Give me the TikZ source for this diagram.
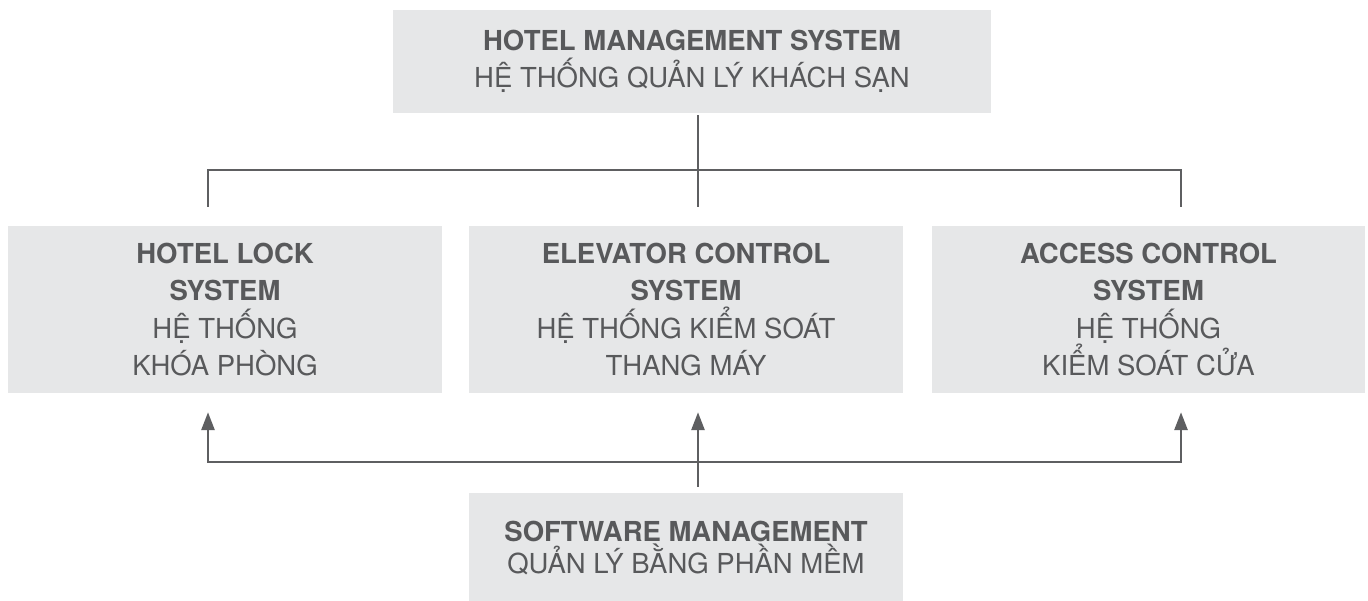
\documentclass[tikz,border=0pt]{standalone}
\usepackage{fontspec}
\setmainfont{TeX Gyre Heros}
\usetikzlibrary{arrows.meta}
\definecolor{boxfill}{HTML}{E6E7E8}
\definecolor{txt}{HTML}{58595B}
\definecolor{ln}{HTML}{5E5F61}
\newcommand\myboxfont{\fontsize{27.5}{37.5}\selectfont\lineskiplimit=-100pt\relax}
\newcommand\mybotfont{\fontsize{27.5}{32}\selectfont\lineskiplimit=-100pt\relax}
\tikzset{
  box/.style={rectangle, fill=boxfill, inner sep=0pt, align=center, text=txt,
    font=\myboxfont},
  conn/.style={draw=ln, line width=2.8pt},
  arr/.style={conn, -{Triangle[length=18pt,width=13pt]}},
  darr/.style={conn, {Triangle[length=18pt,width=13pt]}-{Triangle[length=18pt,width=13pt]}},
}
\begin{document}
\begin{tikzpicture}[x=1pt,y=-1pt]
\useasboundingbox[fill=white] (0,0) rectangle (1368,601);
\coordinate (cL) at (208,0);
\coordinate (cM) at (698,0);
\coordinate (cR) at (1181,0);
\coordinate (hT) at (0,170);
\coordinate (hB) at (0,462);

\node[box, minimum width=598pt, minimum height=103pt] (top) at (692,61.5)
  {\textbf{HOTEL MANAGEMENT SYSTEM}\\HỆ THỐNG QUẢN LÝ KHÁCH SẠN};
\node[box, minimum width=434pt, minimum height=167pt] (left) at (225,309.5)
  {\textbf{HOTEL LOCK}\\\textbf{SYSTEM}\\HỆ THỐNG\\KHÓA PHÒNG};
\node[box, minimum width=434pt, minimum height=167pt] (mid) at (686,309.5)
  {\textbf{ELEVATOR CONTROL}\\\textbf{SYSTEM}\\HỆ THỐNG KIỂM SOÁT\\THANG MÁY};
\node[box, minimum width=433pt, minimum height=167pt] (right) at (1148.5,309.5)
  {\textbf{ACCESS CONTROL}\\\textbf{SYSTEM}\\HỆ THỐNG\\KIỂM SOÁT CỬA};
\node[box, minimum width=434pt, minimum height=110pt, font=\mybotfont] (bot) at (686,548)
  {\textbf{SOFTWARE MANAGEMENT}\\QUẢN LÝ BẰNG PHẦN MỀM};

% top bus
\draw[conn] ([yshift=-2pt]top.south -| cM) -- ([yshift=19pt]mid.north -| cM);
\draw[conn] ([yshift=19pt]left.north -| cL) |- (hT -| cR) -- ([yshift=19pt]right.north -| cR);

% bottom bus
\draw[darr] ([yshift=-19pt]left.south -| cL) |- (hB -| cR) -- ([yshift=-19pt]right.south -| cR);
\draw[arr] ([yshift=6pt]bot.north -| cM) -- ([yshift=-19pt]mid.south -| cM);
\end{tikzpicture}
\end{document}
